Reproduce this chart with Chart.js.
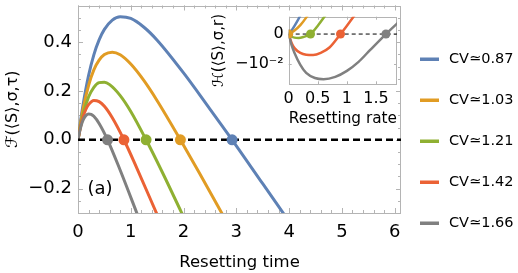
<!DOCTYPE html>
<html>
<head>
<meta charset="utf-8">
<script src="https://cdn.jsdelivr.net/npm/chart.js@4.4.1/dist/chart.umd.min.js"></script>
<style>
  body { margin: 0; background: #fff; }
  #wrap { position: relative; width: 518px; height: 273px; }
  #main { position: absolute; left: 0; top: 0; }
  #inset { position: absolute; left: 200px; top: 0; }
</style>
</head>
<body>
<div id="wrap">
  <canvas id="main" width="518" height="273"></canvas>
  <canvas id="inset" width="210" height="135"></canvas>
</div>
<script>
// legend labels
const cvLabels = ['CV\u22430.87', 'CV\u22431.03', 'CV\u22431.21', 'CV\u22431.42', 'CV\u22431.66'];

// main panel: F vs resetting time
const tBlue = [0, 0.05, 0.1, 0.2, 0.3, 0.4, 0.5, 0.65, 0.8, 1.0, 1.25, 1.5, 2.0, 2.5, 2.92, 3.5, 4.0];
const fBlue = [0, 0.080, 0.149, 0.263, 0.348, 0.409, 0.452, 0.490, 0.504, 0.497, 0.461, 0.408, 0.274, 0.126, 0, -0.180, -0.335];
const tOrange = [0, 0.05, 0.1, 0.2, 0.3, 0.4, 0.5, 0.65, 0.8, 1.0, 1.25, 1.5, 1.94, 2.3, 2.8];
const fOrange = [0, 0.070, 0.130, 0.222, 0.286, 0.326, 0.349, 0.359, 0.348, 0.310, 0.242, 0.160, 0, -0.136, -0.330];
const tGreen = [0, 0.05, 0.1, 0.2, 0.3, 0.4, 0.5, 0.6, 0.8, 1.0, 1.29, 1.6, 2.0];
const fGreen = [0, 0.059, 0.107, 0.175, 0.215, 0.234, 0.236, 0.226, 0.181, 0.116, 0, -0.134, -0.316];
const tRed = [0, 0.05, 0.1, 0.15, 0.2, 0.3, 0.4, 0.5, 0.65, 0.87, 1.1, 1.5];
const fRed = [0, 0.055, 0.096, 0.125, 0.144, 0.161, 0.156, 0.137, 0.090, 0, -0.109, -0.307];
const tGray = [0, 0.03, 0.06, 0.1, 0.15, 0.2, 0.25, 0.3, 0.4, 0.56, 0.8, 1.15];
const fGray = [0, 0.033, 0.058, 0.082, 0.099, 0.106, 0.104, 0.096, 0.067, 0, -0.125, -0.320];
const zeroTimes = [2.92, 1.94, 1.29, 0.87, 0.56];
const zeroVals = [0, 0, 0, 0, 0];
const xTicks = [0, 1, 2, 3, 4, 5, 6];
const yTicks = [-0.2, 0, 0.2, 0.4];
const xMin = 0, xMax = 6.12, yMin = -0.3, yMax = 0.55;

// inset: H vs resetting rate
const rBlue = [0, 0.05, 0.1, 0.2, 0.3];
const hBlue = [0, 0.0012, 0.0027, 0.0062, 0.0105];
const rOrange = [0, 0.1, 0.2, 0.3, 0.4];
const hOrange = [0, 0.0012, 0.0030, 0.0055, 0.0085];
const rGreen = [0, 0.05, 0.1, 0.17, 0.25, 0.375, 0.5, 0.65];
const hGreen = [0, -0.0008, -0.0012, -0.0013, -0.0010, 0, 0.0028, 0.0068];
const rRed = [0, 0.05, 0.1, 0.2, 0.3, 0.42, 0.55, 0.7, 0.89, 1.0, 1.15];
const hRed = [0, -0.0030, -0.0047, -0.0063, -0.0069, -0.0070, -0.0063, -0.0045, 0, 0.0028, 0.0068];
const rGray = [0, 0.05, 0.1, 0.2, 0.3, 0.45, 0.6, 0.8, 1.0, 1.2, 1.4, 1.67, 1.9];
const hGray = [0, -0.0037, -0.0063, -0.0103, -0.0130, -0.0147, -0.0151, -0.0143, -0.0123, -0.0093, -0.0053, 0, 0.0042];
const zeroRates = [0, 0, 0.375, 0.89, 1.67];
const insetXTicks = [0, 0.5, 1, 1.5];
const insetXLabels = ['0', '0.5', '1', '1.5'];
const insetYTicks = [-0.01, 0];
const insetYLabels = ['\u221210\u207B\u00B2', '0'];
const rMin = 0, rMax = 1.86, hMin = -0.0168, hMax = 0.0058;

// styling
const palette = ['#5e81b5', '#e19c24', '#8fb032', '#eb6235', '#808080'];
const frameColor = '#b4b4b4';
const fontFam = '"DejaVu Sans", sans-serif';

function pairs(xs, ys) {
  return xs.map(function(v, i) { return {x: v, y: ys[i]}; });
}

// frame with inward ticks, Mathematica style
function framePlugin(xMaj, xMin_, yMaj, yMin_, majLen, minLen) {
  return {
    id: 'frame',
    beforeDatasetsDraw(chart) {
      const ctx = chart.ctx, a = chart.chartArea;
      const sx = chart.scales.x, sy = chart.scales.y;
      ctx.save();
      ctx.strokeStyle = frameColor;
      ctx.lineWidth = 1;
      ctx.strokeRect(Math.round(a.left) + 0.5, Math.round(a.top) + 0.5,
        Math.round(a.right - a.left) - 1, Math.round(a.bottom - a.top) - 1);
      ctx.beginPath();
      function xt(list, len) {
        list.forEach(function(v) {
          const px = Math.round(sx.getPixelForValue(v)) + 0.5;
          if (px < a.left || px > a.right) return;
          ctx.moveTo(px, a.bottom); ctx.lineTo(px, a.bottom - len);
          ctx.moveTo(px, a.top); ctx.lineTo(px, a.top + len);
        });
      }
      function yt(list, len) {
        list.forEach(function(v) {
          const py = Math.round(sy.getPixelForValue(v)) + 0.5;
          if (py < a.top || py > a.bottom) return;
          ctx.moveTo(a.left, py); ctx.lineTo(a.left + len, py);
          ctx.moveTo(a.right, py); ctx.lineTo(a.right - len, py);
        });
      }
      xt(xMaj, majLen); xt(xMin_, minLen);
      yt(yMaj, majLen); yt(yMin_, minLen);
      ctx.stroke();
      ctx.restore();
    }
  };
}

// minor tick positions
var xMinor = [], yMinor = [];
for (var i = 0; i <= 31; i++) xMinor.push(i * 0.2);
for (var j = -6; j <= 11; j++) yMinor.push(j * 0.05);

const mainLegend = {
  id: 'mainLegend',
  afterDraw(chart) {
    const ctx = chart.ctx;
    ctx.save();
    ctx.textBaseline = 'middle';
    ctx.font = '14.5px ' + fontFam;
    cvLabels.forEach(function(lab, i) {
      const yy = 59 + i * 41;
      ctx.fillStyle = palette[i];
      ctx.fillRect(420, yy - 1.5, 19, 3.5);
      ctx.fillStyle = '#000';
      ctx.textAlign = 'left';
      ctx.fillText(lab, 449, yy);
    });
    ctx.font = '18px ' + fontFam;
    ctx.textAlign = 'center';
    ctx.fillText('(a)', 100, 189);
    ctx.restore();
  }
};

// fixed box sizes so the plot areas land where the reference has them
function fixH(h) {
  return function(s) { s.height = h; s.paddingLeft = 0; s.paddingRight = 0; };
}
function fixW(w) {
  return function(s) { s.width = w; s.paddingTop = 0; s.paddingBottom = 0; };
}

var curvesT = [tBlue, tOrange, tGreen, tRed, tGray];
var curvesF = [fBlue, fOrange, fGreen, fRed, fGray];
var mainSets = curvesT.map(function(ts, i) {
  return {
    label: cvLabels[i],
    data: pairs(ts, curvesF[i]),
    borderColor: palette[i],
    borderWidth: 3,
    pointRadius: 0,
    cubicInterpolationMode: 'monotone',
    order: 3 + (4 - i)
  };
});
mainSets.push({
  data: pairs([xMin, xMax], [0, 0]),
  borderColor: '#000',
  borderWidth: 2.5,
  borderDash: [7, 4],
  pointRadius: 0,
  order: 2
});
mainSets.push({
  data: pairs(zeroTimes, zeroVals),
  showLine: false,
  pointRadius: 5.5,
  pointBorderWidth: 0,
  pointBackgroundColor: palette,
  order: 1
});

new Chart(document.getElementById('main'), {
  type: 'line',
  data: { datasets: mainSets },
  options: {
    responsive: false,
    animation: false,
    events: [],
    layout: { padding: { top: 3, right: 117, left: 0, bottom: 0 } },
    plugins: { legend: { display: false }, tooltip: { enabled: false } },
    scales: {
      x: {
        type: 'linear', min: xMin, max: xMax,
        grid: { display: false, drawTicks: false },
        border: { display: false },
        afterBuildTicks: function(s) { s.ticks = xTicks.map(function(v) { return {value: v}; }); },
        afterFit: fixH(60),
        ticks: { color: '#000', padding: 9, font: { family: fontFam, size: 18 }, maxRotation: 0 },
        title: { display: true, text: 'Resetting time', color: '#000', font: { family: fontFam, size: 16.5 }, padding: { top: 0, bottom: 0 } }
      },
      y: {
        type: 'linear', min: yMin, max: yMax,
        grid: { display: false, drawTicks: false },
        border: { display: false },
        afterBuildTicks: function(s) { s.ticks = yTicks.map(function(v) { return {value: v}; }); },
        afterFit: fixW(78),
        ticks: {
          color: '#000', padding: 6, font: { family: fontFam, size: 18 },
          callback: function(v) { return v.toFixed(1).replace('-', '\u2212'); }
        },
        title: { display: true, text: '\u2131(\u27E8S\u27E9,\u03C3,\u03C4)', color: '#000', font: { family: fontFam, size: 16 }, padding: { top: 3, bottom: 0 } }
      }
    }
  },
  plugins: [framePlugin(xTicks, xMinor, yTicks, yMinor, 5, 3), mainLegend]
});

// inset
var insetR = [rBlue, rOrange, rGreen, rRed, rGray];
var insetH = [hBlue, hOrange, hGreen, hRed, hGray];
var insetSets = insetR.map(function(rs, i) {
  return {
    data: pairs(rs, insetH[i]),
    borderColor: palette[i],
    borderWidth: 2.5,
    pointRadius: 0,
    cubicInterpolationMode: 'monotone',
    order: 3 + (4 - i)
  };
});
insetSets.push({
  data: pairs([rMin, rMax], [0, 0]),
  borderColor: '#000',
  borderWidth: 1,
  borderDash: [4, 3],
  pointRadius: 0,
  order: 2
});
insetSets.push({
  data: pairs(zeroRates, zeroVals),
  showLine: false,
  pointRadius: 4.5,
  pointBorderWidth: 0,
  pointBackgroundColor: palette,
  order: 1
});

const whiteBg = {
  id: 'whiteBg',
  beforeDraw(chart) {
    const a = chart.chartArea, ctx = chart.ctx;
    ctx.save();
    ctx.fillStyle = '#fff';
    ctx.fillRect(a.left, a.top, a.right - a.left, a.bottom - a.top);
    ctx.restore();
  }
};

new Chart(document.getElementById('inset'), {
  type: 'line',
  data: { datasets: insetSets },
  options: {
    responsive: false,
    animation: false,
    events: [],
    layout: { padding: { top: 16.7, right: 13, left: 0, bottom: 0 } },
    plugins: { legend: { display: false }, tooltip: { enabled: false } },
    scales: {
      x: {
        type: 'linear', min: rMin, max: rMax,
        grid: { display: false, drawTicks: false },
        border: { display: false },
        afterBuildTicks: function(s) { s.ticks = insetXTicks.map(function(v) { return {value: v}; }); },
        afterFit: fixH(50.7),
        ticks: {
          color: '#000', padding: 5, font: { family: fontFam, size: 16 }, maxRotation: 0,
          callback: function(v, idx) { return insetXLabels[idx]; }
        },
        title: { display: true, text: 'Resetting rate', color: '#000', font: { family: fontFam, size: 16 }, padding: { top: 0, bottom: 7 } }
      },
      y: {
        type: 'linear', min: hMin, max: hMax,
        grid: { display: false, drawTicks: false },
        border: { display: false },
        afterBuildTicks: function(s) { s.ticks = insetYTicks.map(function(v) { return {value: v}; }); },
        afterFit: fixW(88.7),
        ticks: {
          color: '#000', padding: 5, font: { family: fontFam, size: 16 },
          callback: function(v, idx) { return insetYLabels[idx]; }
        },
        title: { display: true, text: '\u210B(\u27E8S\u27E9,\u03C3,r)', color: '#000', font: { family: fontFam, size: 15 }, padding: { top: 10, bottom: 0 } }
      }
    }
  },
  plugins: [whiteBg, framePlugin(insetXTicks, [], insetYTicks, [], 3, 2)]
});
</script>
</body>
</html>
